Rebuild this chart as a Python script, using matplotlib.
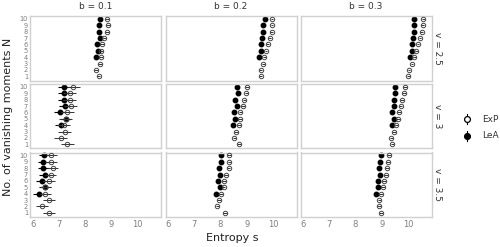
import matplotlib.pyplot as plt
import numpy as np

# N = 10 ... 1 (top to bottom); LeA only for N = 10 ... 4
N_exp = [10, 9, 8, 7, 6, 5, 4, 3, 2, 1]
N_lea = [10, 9, 8, 7, 6, 5, 4]
b_vals = ["0.1", "0.2", "0.3"]
v_vals = ["2.5", "3", "3.5"]

# ExP (open circles), rows = v, cols = b
exp_v25_b01 = [8.83, 8.87, 8.83, 8.74, 8.66, 8.62, 8.61, 8.56, 8.41, 8.52]
exp_v25_b02 = [9.97, 9.97, 9.95, 9.87, 9.80, 9.73, 9.67, 9.63, 9.53, 9.53]
exp_v25_b03 = [10.59, 10.56, 10.53, 10.46, 10.38, 10.32, 10.24, 10.16, 10.04, 10.02]
exp_v3_b01 = [7.55, 7.42, 7.42, 7.45, 7.33, 7.27, 7.19, 7.23, 7.07, 7.32]
exp_v3_b02 = [9.02, 8.99, 8.91, 8.85, 8.76, 8.74, 8.70, 8.59, 8.53, 8.70]
exp_v3_b03 = [9.90, 9.84, 9.78, 9.72, 9.67, 9.62, 9.56, 9.46, 9.37, 9.41]
exp_v35_b01 = [6.72, 6.70, 6.76, 6.69, 6.63, 6.49, 6.49, 6.63, 6.36, 6.63]
exp_v35_b02 = [8.33, 8.34, 8.31, 8.21, 8.13, 8.12, 8.02, 7.94, 7.88, 8.18]
exp_v35_b03 = [9.28, 9.24, 9.21, 9.17, 9.09, 9.06, 8.98, 8.91, 8.89, 8.96]

# LeA (filled circles)
lea_v25_b01 = [8.59, 8.53, 8.52, 8.56, 8.45, 8.48, 8.40]
lea_v25_b02 = [9.69, 9.62, 9.62, 9.59, 9.54, 9.56, 9.48]
lea_v25_b03 = [10.25, 10.24, 10.24, 10.21, 10.14, 10.15, 10.09]
lea_v3_b01 = [7.19, 7.19, 7.19, 7.23, 7.04, 7.26, 7.07]
lea_v3_b02 = [8.62, 8.67, 8.57, 8.64, 8.51, 8.57, 8.48]
lea_v3_b03 = [9.52, 9.52, 9.47, 9.47, 9.41, 9.45, 9.39]
lea_v35_b01 = [6.45, 6.41, 6.41, 6.47, 6.34, 6.48, 6.24]
lea_v35_b02 = [8.00, 8.02, 7.95, 7.99, 7.90, 7.99, 7.83]
lea_v35_b03 = [8.97, 8.94, 8.91, 8.93, 8.87, 8.87, 8.80]

# half-width of the horizontal error bars per panel
err_exp = [[0.07, 0.05, 0.05], [0.25, 0.07, 0.07], [0.22, 0.07, 0.07]]
err_lea = [[0.04, 0.03, 0.03], [0.22, 0.04, 0.04], [0.22, 0.04, 0.04]]

exp_grid = [[exp_v25_b01, exp_v25_b02, exp_v25_b03],
            [exp_v3_b01, exp_v3_b02, exp_v3_b03],
            [exp_v35_b01, exp_v35_b02, exp_v35_b03]]
lea_grid = [[lea_v25_b01, lea_v25_b02, lea_v25_b03],
            [lea_v3_b01, lea_v3_b02, lea_v3_b03],
            [lea_v35_b01, lea_v35_b02, lea_v35_b03]]

W, H = 500, 247
fig = plt.figure(figsize=(W / 100, H / 100), dpi=100)

col_x = [30, 165.5, 300.5]
row_y = [16, 84, 152.5]
pw, ph = 131, 64.5
grey = "#7f7f7f"

for r in range(3):
    for c in range(3):
        ax = fig.add_axes([col_x[c] / W, 1 - (row_y[r] + ph) / H, pw / W, ph / H])
        ax.errorbar(lea_grid[r][c], N_lea, xerr=err_lea[r][c], fmt="o", ms=3.2,
                    color="black", mfc="black", mec="black", elinewidth=0.8,
                    capsize=0, zorder=2)
        ax.errorbar(exp_grid[r][c], N_exp, xerr=err_exp[r][c], fmt="o", ms=3.2,
                    color="#333333", mfc="none", mec="#444444", mew=0.7,
                    elinewidth=0.7, capsize=0, zorder=3)
        ax.set_xlim(5.9, 10.9)
        ax.set_ylim(0.35, 10.45)
        ax.set_xticks([6, 7, 8, 9, 10])
        ax.set_yticks(range(1, 11))
        for s in ax.spines.values():
            s.set_color("#d0d0d0")
            s.set_linewidth(1.0)
        ax.tick_params(length=0, pad=2, labelsize=6, colors=grey)
        if r < 2:
            ax.set_xticklabels([])
        if c > 0:
            ax.set_yticklabels([])
        else:
            ax.tick_params(axis="y", labelsize=4.8, pad=1.5)
        if r == 0:
            ax.set_title("b = " + b_vals[c], fontsize=6.5, color="#333333", pad=5)
        if c == 2:
            ax.text(1.045, 0.5, "v = " + v_vals[r], transform=ax.transAxes,
                    rotation=-90, va="center", ha="center", fontsize=6.5,
                    color="#333333")

fig.text(8 / W, 1 - 117 / H, "No. of vanishing moments N", rotation=90,
         va="center", ha="center", fontsize=8, color="#222222")
fig.text(232 / W, 1 - 238 / H, "Entropy s", va="center", ha="center",
         fontsize=8, color="#222222")

# legend
lx = 467
for yy, lab, face in [(119, "ExP", "white"), (136, "LeA", "black")]:
    fig.lines.append(plt.Line2D([lx / W, lx / W], [1 - (yy - 5) / H, 1 - (yy + 5) / H],
                                transform=fig.transFigure, color="black", lw=0.8))
    fig.lines.append(plt.Line2D([lx / W], [1 - yy / H], transform=fig.transFigure,
                                marker="o", ms=4.2, mfc=face, mec="black", mew=0.9,
                                linestyle="none"))
    fig.text(482 / W, 1 - yy / H, lab, va="center", ha="left", fontsize=6.5,
             color="#333333")

fig.savefig("out.png", dpi=100)
